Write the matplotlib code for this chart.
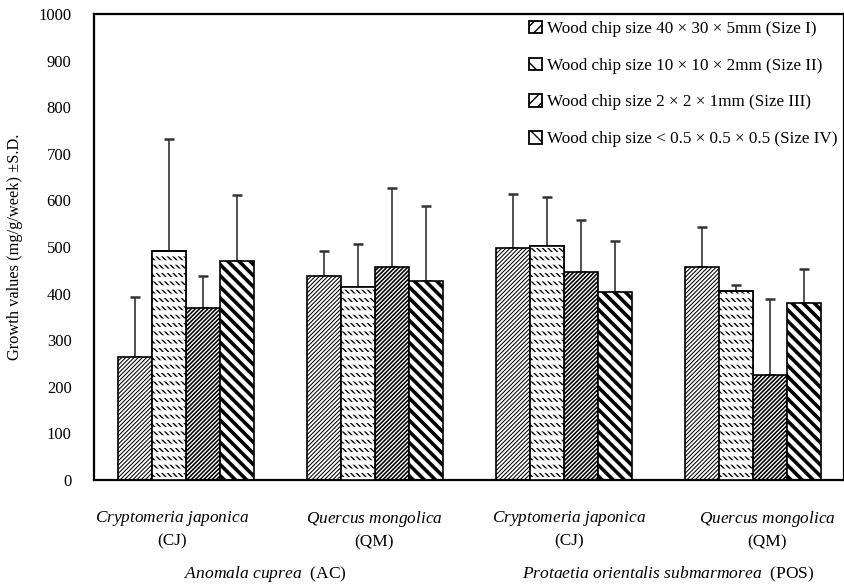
import matplotlib
matplotlib.use("Agg")
import matplotlib.pyplot as plt
from matplotlib.transforms import offset_copy
import numpy as np

# growth values (mg/g/week) per wood chip size, groups: AC-CJ, AC-QM, POS-CJ, POS-QM
woods = ["Cryptomeria japonica", "Quercus mongolica",
         "Cryptomeria japonica", "Quercus mongolica"]
wood_codes = ["(CJ)", "(QM)", "(CJ)", "(QM)"]
size_labels = ["Wood chip size 40 \u00d7 30 \u00d7 5mm (Size I)",
               "Wood chip size 10 \u00d7 10 \u00d7 2mm (Size II)",
               "Wood chip size 2 \u00d7 2 \u00d7 1mm (Size III)",
               "Wood chip size < 0.5 \u00d7 0.5 \u00d7 0.5 (Size IV)"]
size1 = [264, 438, 498, 457]
size2 = [491, 414, 502, 405]
size3 = [369, 457, 446, 225]
size4 = [470, 427, 403, 380]
sd1 = [129, 53, 116, 86]
sd2 = [241, 92, 105, 13]
sd3 = [69, 170, 112, 163]
sd4 = [142, 161, 110, 73]
insects = ["Anomala cuprea", "Protaetia orientalis submarmorea"]
insect_codes = ["(AC)", "(POS)"]

plt.rcParams['font.family'] = 'Liberation Serif'
plt.rcParams['mathtext.fontset'] = 'custom'
plt.rcParams['mathtext.it'] = 'Liberation Serif:italic'
plt.rcParams['mathtext.rm'] = 'Liberation Serif'


def ital(s):
    return r'$\mathit{' + s.replace(' ', r'\ ') + '}$'


fig = plt.figure(figsize=(8.45, 5.84), dpi=100)
ax = fig.add_axes([0.111, 0.178, 0.888, 0.798])

x = np.arange(len(woods))
w = 0.18
means = [size1, size2, size3, size4]
sds = [sd1, sd2, sd3, sd4]
hatches = ['////////', '\\' * 6, '////////', '\\' * 3]
hlw = [0.75, 1.0, 1.15, 2.6]
handles = []
for i in range(4):
    plt.rcParams['hatch.linewidth'] = hlw[i]
    pos = x + (i - 1.5) * w
    b = ax.bar(pos, means[i], w, color='white', edgecolor='black', linewidth=1.2,
               hatch=hatches[i], zorder=2)
    handles.append(b)
    if i == 1:
        # break the backslashes into short dashes with white horizontal stripes
        plt.rcParams['hatch.linewidth'] = 3.2
        ax.bar(pos, means[i], w, facecolor='none', edgecolor='white', linewidth=0,
               hatch='--', zorder=3)
        ax.bar(pos, means[i], w, facecolor='none', edgecolor='black', linewidth=1.2,
               zorder=4)
    ax.errorbar(pos, means[i], yerr=[np.zeros(4), sds[i]], fmt='none',
                ecolor='#333333', elinewidth=1.2, capsize=3.5, capthick=1.8, zorder=1)

ax.set_ylim(0, 1000)
ax.set_xlim(-0.49, 3.48)
ax.set_yticks(np.arange(0, 1001, 100))
ax.tick_params(axis='y', length=0, pad=16, labelsize=12)
ax.set_xticks([])
for s in ax.spines.values():
    s.set_linewidth(1.6)

ax.set_ylabel("Growth values (mg/g/week) \u00b1S.D.", fontsize=11.8, labelpad=11)

# wood species under each group, insect species under each pair of groups
label_shift = [-14, -1, 5, 14]
for xi, name, code, dx in zip(x, woods, wood_codes, label_shift):
    tr = offset_copy(ax.get_xaxis_transform(), fig=fig, x=dx, y=0, units='dots')
    ax.text(xi, -0.062, ital(name) + '\n' + code, transform=tr, ha='center', va='top',
            fontsize=12.4, linespacing=1.45, multialignment='center')

insect_shift = [-15, 9]
for j, (name, code, dx) in enumerate(zip(insects, insect_codes, insect_shift)):
    tr = offset_copy(ax.get_xaxis_transform(), fig=fig, x=dx, y=0, units='dots')
    ax.text(2 * j + 0.5, -0.202, ital(name) + '  ' + code, transform=tr,
            ha='center', va='center', fontsize=12.6)

# legend keys: small boxes with a few hatch lines
plt.rcParams['hatch.linewidth'] = 1.0
leg = ax.legend(handles, size_labels, loc='upper right', frameon=False, fontsize=12.3,
                handlelength=0.75, handleheight=0.75, handletextpad=0.3,
                labelspacing=1.2, borderaxespad=0.0, borderpad=0.4)
key_hatches = ['///', '\\\\', '///', '\\\\']
for p, h in zip(leg.legend_handles, key_hatches):
    p.set_hatch(h)
    p.set_linewidth(1.3)

fig.savefig("out.png", dpi=100)
